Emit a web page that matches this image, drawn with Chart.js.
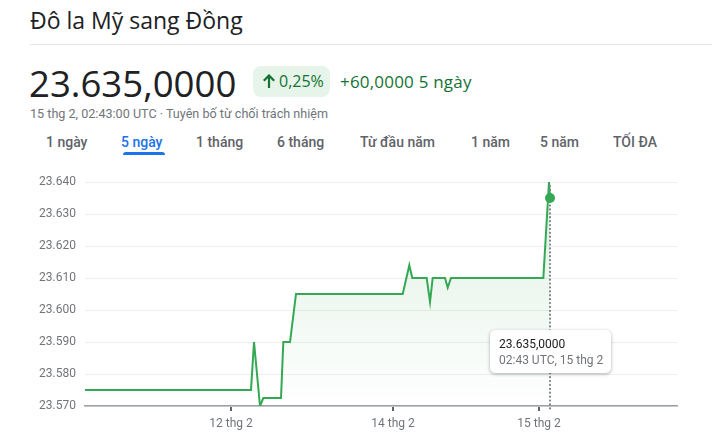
<!DOCTYPE html>
<html>
<head>
<meta charset="utf-8">
<script src="https://cdn.jsdelivr.net/npm/chart.js@4.4.1/dist/chart.umd.min.js"></script>
<style>
  html, body { margin: 0; padding: 0; background: #fff; }
  body { width: 712px; height: 445px; position: relative; overflow: hidden; font-family: Roboto, "Noto Sans", Arial, sans-serif; }
  .abs { position: absolute; white-space: nowrap; }
  #title { left: 30px; top: 4px; font-size: 23px; color: #202124; font-family: "Open Sans", Roboto, sans-serif; }
  #divider { left: 30px; top: 44px; width: 682px; height: 1px; background: #e3e4e6; }
  #price { left: 29px; top: 58px; font-size: 36.6px; color: #202124; font-family: "Open Sans", Roboto, sans-serif; }
  #badge { left: 253px; top: 66px; width: 77px; height: 31px; border-radius: 8px; background: #e6f4ea; color: #137333; font-size: 16px; font-weight: 500; line-height: 31px; font-family: "Open Sans", Roboto, sans-serif; }
  #badge svg { position: absolute; left: 9px; top: 8px; }
  #badge span { position: absolute; left: 26px; top: 0; }
  #change { left: 340px; top: 70px; font-size: 17px; letter-spacing: 0.2px; color: #137333; font-weight: 500; font-family: "Open Sans", Roboto, sans-serif; }
  #sub { left: 30px; top: 106px; font-size: 12.6px; color: #70757a; }
  .tab { top: 134px; font-size: 14px; color: #5f6368; font-weight: 500; }
  .tab.active { color: #1a73e8; }
  #underline { left: 123px; top: 152px; width: 42px; height: 3px; background: #1a73e8; border-radius: 3px 3px 0 0; }
  #chartWrap { left: 0; top: 160px; width: 712px; height: 285px; }
  #tip { left: 490px; top: 330px; width: 121px; height: 43px; background: #fff; border-radius: 5px; box-shadow: 0 1px 3px rgba(60,64,67,0.3), 0 1px 4px rgba(60,64,67,0.15); box-sizing: border-box; padding: 6px 0 0 9px; font-size: 12px; line-height: 16px; }
  #tip .v { color: #202124; }
  #tip .t { color: #70757a; }
</style>
</head>
<body>
<div id="title" class="abs">Đô la Mỹ sang Đồng</div>
<div id="divider" class="abs"></div>
<div id="price" class="abs">23.635,0000</div>
<div id="badge" class="abs"><svg width="14" height="15" viewBox="0 0 14 15"><path d="M7 1.5 L7 14 M1.8 6.8 L7 1.5 L12.2 6.8" stroke="#137333" stroke-width="2.2" fill="none"/></svg><span>0,25%</span></div>
<div id="change" class="abs">+60,0000 5 ngày</div>
<div id="sub" class="abs">15 thg 2, 02:43:00 UTC · Tuyên bố từ chối trách nhiệm</div>
<div class="abs tab" style="left:46px">1 ngày</div>
<div class="abs tab active" style="left:121px">5 ngày</div>
<div class="abs tab" style="left:196px">1 tháng</div>
<div class="abs tab" style="left:277px">6 tháng</div>
<div class="abs tab" style="left:360px">Từ đầu năm</div>
<div class="abs tab" style="left:471px">1 năm</div>
<div class="abs tab" style="left:540px">5 năm</div>
<div class="abs tab" style="left:613px">TỐI ĐA</div>
<div id="underline" class="abs"></div>
<div id="chartWrap" class="abs"><canvas id="c" width="712" height="285"></canvas></div>
<div id="tip" class="abs"><div class="v">23.635,0000</div><div class="t">02:43 UTC, 15 thg 2</div></div>
<script>
// Time position along the 5-day window (arbitrary units 0..100, compressed trading time)
const timePos = [0, 28.04, 28.55, 29.56, 30.12, 33.11, 33.50, 34.63, 35.64, 53.67, 54.78, 55.29, 57.72, 58.28, 58.73, 60.81, 61.27, 61.82, 77.42, 78.38, 78.55];
// USD -> VND rate
const rates = [23575, 23575, 23590, 23570, 23572.5, 23572.5, 23590, 23590, 23605, 23605, 23614, 23610, 23610, 23602.5, 23610, 23610, 23607, 23610, 23610, 23640, 23635];
// X tick labels and their time positions
const xTickPos = [24.66, 52.03, 76.69];
const xTickLabels = ['12 thg 2', '14 thg 2', '15 thg 2'];
// Y ticks
const yTicks = [23570, 23580, 23590, 23600, 23610, 23620, 23630, 23640];

function fmtVN(v) {
  const k = Math.floor(v / 1000);
  const r = Math.round(v - k * 1000);
  return k + '.' + String(r).padStart(3, '0');
}

const points = timePos.map((x, i) => ({ x: x, y: rates[i] }));
const lastIdx = points.length - 1;

const crosshair = {
  id: 'crosshair',
  afterDatasetsDraw(chart) {
    const meta = chart.getDatasetMeta(0);
    const p = meta.data[lastIdx];
    const ctx = chart.ctx;
    const area = chart.chartArea;
    ctx.save();
    ctx.strokeStyle = '#80868b';
    ctx.lineWidth = 2.2;
    ctx.lineCap = 'round';
    ctx.setLineDash([0.1, 3.8]);
    ctx.beginPath();
    ctx.moveTo(p.x, area.top + 4);
    ctx.lineTo(p.x, area.bottom + 3);
    ctx.stroke();
    ctx.restore();
    ctx.save();
    ctx.fillStyle = '#34a853';
    ctx.beginPath();
    ctx.arc(p.x, p.y, 5, 0, Math.PI * 2);
    ctx.fill();
    ctx.restore();
  }
};

const ctx = document.getElementById('c').getContext('2d');
new Chart(ctx, {
  type: 'line',
  data: {
    datasets: [{
      data: points,
      borderColor: '#34a853',
      borderWidth: 2,
      pointRadius: 0,
      tension: 0,
      fill: 'start',
      backgroundColor: (c) => {
        const a = c.chart.chartArea;
        if (!a) return 'rgba(52,168,83,0.1)';
        const g = c.chart.ctx.createLinearGradient(0, a.top, 0, a.bottom);
        g.addColorStop(0, 'rgba(52,168,83,0.17)');
        g.addColorStop(1, 'rgba(52,168,83,0)');
        return g;
      }
    }]
  },
  options: {
    responsive: false,
    animation: false,
    layout: { padding: { top: 22, right: 35, left: 0, bottom: 0 } },
    plugins: { legend: { display: false }, tooltip: { enabled: false } },
    scales: {
      x: {
        type: 'linear',
        min: 0,
        max: 100,
        afterBuildTicks: (s) => { s.ticks = xTickPos.map(v => ({ value: v })); },
        afterFit: (s) => { s.height = 39; },
        ticks: {
          callback: (v, i) => xTickLabels[i],
          color: '#70757a',
          font: { family: 'Roboto', size: 12 },
          padding: 6,
          maxRotation: 0,
          autoSkip: false
        },
        grid: { drawOnChartArea: false, drawTicks: true, tickLength: 5, color: '#5f6368', lineWidth: 2 },
        border: { display: true, color: '#9aa0a6', width: 1.5 }
      },
      y: {
        min: 23570,
        max: 23640,
        afterBuildTicks: (s) => { s.ticks = yTicks.map(v => ({ value: v })); },
        afterFit: (s) => { s.width = 85; },
        ticks: {
          callback: (v) => fmtVN(v),
          color: '#70757a',
          font: { family: 'Roboto', size: 12 },
          padding: 9
        },
        grid: { color: '#eeeeee', lineWidth: 1, drawTicks: false },
        border: { display: false }
      }
    }
  },
  plugins: [crosshair]
});
</script>
</body>
</html>
